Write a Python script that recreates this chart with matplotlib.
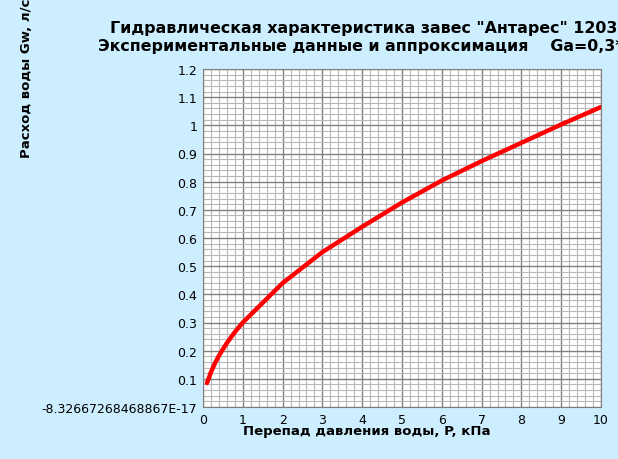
import matplotlib
matplotlib.use("Agg")
from matplotlib import pyplot as plt
from matplotlib.ticker import MultipleLocator, FixedLocator, FixedFormatter

# перепад давления, кПа и расход воды, л/с
p = [0.1, 0.2, 0.3, 0.4, 0.5, 0.6, 0.7, 0.8, 0.9, 1, 2, 3, 4, 5, 6, 7, 8, 9, 10]
gw = [0.085, 0.124, 0.155, 0.182, 0.205, 0.227, 0.247, 0.266, 0.283, 0.30,
      0.44, 0.55, 0.64, 0.726, 0.804, 0.873, 0.938, 1.003, 1.065]

y_ticks = [0, 0.1, 0.2, 0.3, 0.4, 0.5, 0.6, 0.7, 0.8, 0.9, 1.0, 1.1, 1.2]
y_labels = ["-8.32667268468867E-17", "0.1", "0.2", "0.3", "0.4", "0.5", "0.6",
            "0.7", "0.8", "0.9", "1", "1.1", "1.2"]
x_ticks = list(range(0, 11))

bg = "#cceeff"
fig = plt.figure(figsize=(6.18, 4.6), dpi=100, facecolor=bg)
W, H = 618, 460
ax = fig.add_axes([203 / W, 1 - 408 / H, (601 - 203) / W, (408 - 70) / H])
ax.set_facecolor("white")

ax.plot(p, gw, color="red", lw=3.2, solid_capstyle="round", zorder=3)

ax.set_xlim(0, 10)
ax.set_ylim(0, 1.2)
ax.xaxis.set_major_locator(FixedLocator(x_ticks))
ax.xaxis.set_minor_locator(MultipleLocator(0.2))
ax.yaxis.set_major_locator(FixedLocator(y_ticks))
ax.yaxis.set_major_formatter(FixedFormatter(y_labels))
ax.yaxis.set_minor_locator(MultipleLocator(0.02))
ax.grid(which="minor", color="#b8b8b8", lw=0.8)
ax.grid(which="major", color="#808080", lw=1.0)
ax.set_axisbelow(True)
ax.tick_params(which="both", length=0, labelsize=9, pad=4)
for s in ax.spines.values():
    s.set_color("#808080")

# заголовок шире рисунка и обрезается справа, как в оригинале
fig.text(110 / W, 1 - 28 / H, 'Гидравлическая характеристика завес "Антарес" 1203Л',
         fontsize=11.4, fontweight="bold", ha="left", va="center")
fig.text(98 / W, 1 - 47 / H, "Экспериментальные данные и аппроксимация    Ga=0,3*P^0,55",
         fontsize=11.4, fontweight="bold", ha="left", va="center")
fig.text(367 / W, 1 - 432 / H, "Перепад давления воды, P, кПа",
         fontsize=9.5, fontweight="bold", ha="center", va="center")
fig.text(27 / W, 1 - 158 / H, "Расход воды Gw, л/с", rotation=90,
         fontsize=9.5, fontweight="bold", ha="center", va="bottom")

fig.savefig("out.png", dpi=100, facecolor=bg)
